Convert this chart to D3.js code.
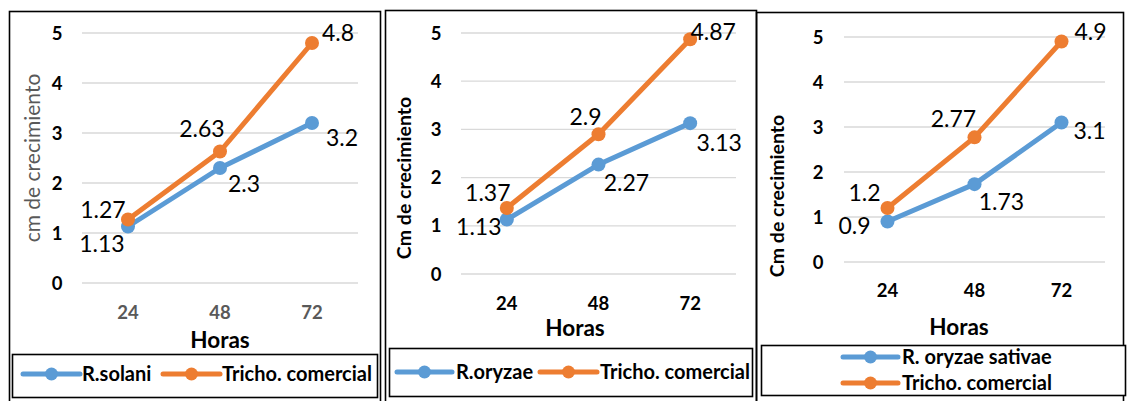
<!DOCTYPE html>
<html>
<head>
<meta charset="utf-8">
<script src="https://cdn.jsdelivr.net/npm/d3@7"></script>
<style>
  html, body { margin: 0; padding: 0; background: #fff; }
  svg { display: block; font-family: Lato, "Open Sans", sans-serif; }
</style>
</head>
<body>
<svg id="chart" width="1127" height="401"></svg>
<script>
// Growth (cm) over time (hours) for three pathogen/Trichoderma pairs
const hours = ["24", "48", "72"];
const yTicks = [0, 1, 2, 3, 4, 5];

const solani = [1.13, 2.3, 3.2];
const trichoSolani = [1.27, 2.63, 4.8];

const oryzae = [1.13, 2.27, 3.13];
const trichoOryzae = [1.37, 2.9, 4.87];

const sativae = [0.9, 1.73, 3.1];
const trichoSativae = [1.2, 2.77, 4.9];

const seriesNames = {
  solani: "R.solani",
  oryzae: "R.oryzae",
  sativae: "R. oryzae sativae",
  tricho: "Tricho. comercial"
};

const BLUE = "#5B9BD5";
const ORANGE = "#ED7D31";

// Layout of each panel: frame, plot area, axis text and label placement
const panels = [
  {
    frame: [9.5, 11.5, 371, 395],
    legendBox: [12.5, 354.5, 365, 43],
    plot: { left: 82, right: 358, top: 33, bottom: 283 },
    yTitle: { text: "cm de crecimiento", x: 32, y: 158, bold: false, color: "#595959" },
    xTickColor: "#595959", xTickY: 312, yTickX: 57,
    horas: { x: 220, y: 340 },
    series: [
      { name: seriesNames.solani, values: solani, color: BLUE,
        offsets: [[-26, 17], [24, 16], [30, 15]] },
      { name: seriesNames.tricho, values: trichoSolani, color: ORANGE,
        offsets: [[-25, -10], [-18, -23], [26, -10]] }
    ],
    legend: [
      { x1: 23, x2: 80, y: 374, textX: 82 },
      { x1: 163, x2: 220, y: 374, textX: 222 }
    ]
  },
  {
    frame: [385.5, 10.5, 371, 395],
    legendBox: [389.5, 348.5, 363, 48],
    plot: { left: 461, right: 736, top: 33, bottom: 274 },
    yTitle: { text: "Cm de crecimiento", x: 404, y: 178, bold: true, color: "#000" },
    xTickColor: "#000", xTickY: 303, yTickX: 436,
    horas: { x: 575, y: 328 },
    series: [
      { name: seriesNames.oryzae, values: oryzae, color: BLUE,
        offsets: [[-28, 7], [28, 18], [29, 20]] },
      { name: seriesNames.tricho, values: trichoOryzae, color: ORANGE,
        offsets: [[-19, -15], [-13, -18], [23, -8]] }
    ],
    legend: [
      { x1: 397, x2: 452, y: 372, textX: 456 },
      { x1: 540, x2: 597, y: 372, textX: 600 }
    ]
  },
  {
    frame: [756.5, 12.5, 367, 395],
    legendBox: [761.5, 345.5, 364, 50],
    plot: { left: 844, right: 1105, top: 37, bottom: 262 },
    yTitle: { text: "Cm de crecimiento", x: 777, y: 196, bold: true, color: "#000" },
    xTickColor: "#000", xTickY: 290, yTickX: 818,
    horas: { x: 959, y: 327 },
    series: [
      { name: seriesNames.sativae, values: sativae, color: BLUE,
        offsets: [[-33, 4], [27, 18], [28, 8]] },
      { name: seriesNames.tricho, values: trichoSativae, color: ORANGE,
        offsets: [[-23, -15], [-21, -19], [29, -10]] }
    ],
    legend: [
      { x1: 843, x2: 898, y: 357, textX: 902 },
      { x1: 843, x2: 898, y: 383, textX: 902 }
    ]
  }
];

const svg = d3.select("#chart");

panels.forEach(p => {
  const g = svg.append("g");

  // outer frame
  g.append("rect")
    .attr("x", p.frame[0]).attr("y", p.frame[1])
    .attr("width", p.frame[2]).attr("height", p.frame[3])
    .attr("fill", "none").attr("stroke", "#000").attr("stroke-width", 1.6);

  const x = d3.scalePoint().domain(hours)
    .range([p.plot.left, p.plot.right]).padding(0.5);
  const y = d3.scaleLinear().domain([0, 5])
    .range([p.plot.bottom, p.plot.top]);

  // horizontal gridlines
  g.append("g").selectAll("line").data(yTicks).join("line")
    .attr("x1", p.plot.left).attr("x2", p.plot.right)
    .attr("y1", d => y(d)).attr("y2", d => y(d))
    .attr("stroke", "#D9D9D9").attr("stroke-width", 1.3);

  // y tick labels
  g.append("g").selectAll("text").data(yTicks).join("text")
    .attr("x", p.yTickX).attr("y", d => y(d))
    .attr("dy", "0.36em").attr("text-anchor", "middle")
    .attr("font-size", 18.5).attr("font-weight", 700).attr("fill", "#000")
    .text(d => d);

  // x tick labels
  g.append("g").selectAll("text").data(hours).join("text")
    .attr("x", d => x(d)).attr("y", p.xTickY)
    .attr("dy", "0.36em").attr("text-anchor", "middle")
    .attr("font-size", 18.5).attr("font-weight", 700).attr("fill", p.xTickColor)
    .text(d => d);

  // axis titles
  g.append("text")
    .attr("x", p.horas.x).attr("y", p.horas.y).attr("dy", "0.36em")
    .attr("text-anchor", "middle").attr("font-size", 22.5).attr("font-weight", 700)
    .attr("fill", "#000").text("Horas");

  g.append("text")
    .attr("transform", `translate(${p.yTitle.x},${p.yTitle.y}) rotate(-90)`)
    .attr("dy", "0.36em").attr("text-anchor", "middle")
    .attr("font-size", p.yTitle.bold ? 19.5 : 21)
    .attr("font-weight", p.yTitle.bold ? 700 : 400)
    .attr("fill", p.yTitle.color).text(p.yTitle.text);

  const line = d3.line().x((d, i) => x(hours[i])).y(d => y(d));

  p.series.forEach(s => {
    g.append("path").datum(s.values)
      .attr("d", line).attr("fill", "none")
      .attr("stroke", s.color).attr("stroke-width", 5)
      .attr("stroke-linejoin", "round").attr("stroke-linecap", "round");

    g.append("g").selectAll("circle").data(s.values).join("circle")
      .attr("cx", (d, i) => x(hours[i])).attr("cy", d => y(d))
      .attr("r", 7).attr("fill", s.color);
  });

  // value labels, drawn after all lines so they sit on top
  p.series.forEach(s => {
    g.append("g").selectAll("text").data(s.values).join("text")
      .attr("x", (d, i) => x(hours[i]) + s.offsets[i][0])
      .attr("y", (d, i) => y(d) + s.offsets[i][1])
      .attr("dy", "0.36em").attr("text-anchor", "middle")
      .attr("font-size", 23).attr("fill", "#000")
      .text(d => d);
  });

  // legend
  g.append("rect")
    .attr("x", p.legendBox[0]).attr("y", p.legendBox[1])
    .attr("width", p.legendBox[2]).attr("height", p.legendBox[3])
    .attr("fill", "#fff").attr("stroke", "#000").attr("stroke-width", 1.6);

  p.series.forEach((s, i) => {
    const L = p.legend[i];
    g.append("line")
      .attr("x1", L.x1).attr("x2", L.x2).attr("y1", L.y).attr("y2", L.y)
      .attr("stroke", s.color).attr("stroke-width", 5).attr("stroke-linecap", "round");
    g.append("circle")
      .attr("cx", (L.x1 + L.x2) / 2).attr("cy", L.y).attr("r", 6.5).attr("fill", s.color);
    g.append("text")
      .attr("x", L.textX).attr("y", L.y).attr("dy", "0.36em")
      .attr("font-size", 20).attr("font-weight", 700).attr("fill", "#000")
      .text(s.name);
  });
});
</script>
</body>
</html>
